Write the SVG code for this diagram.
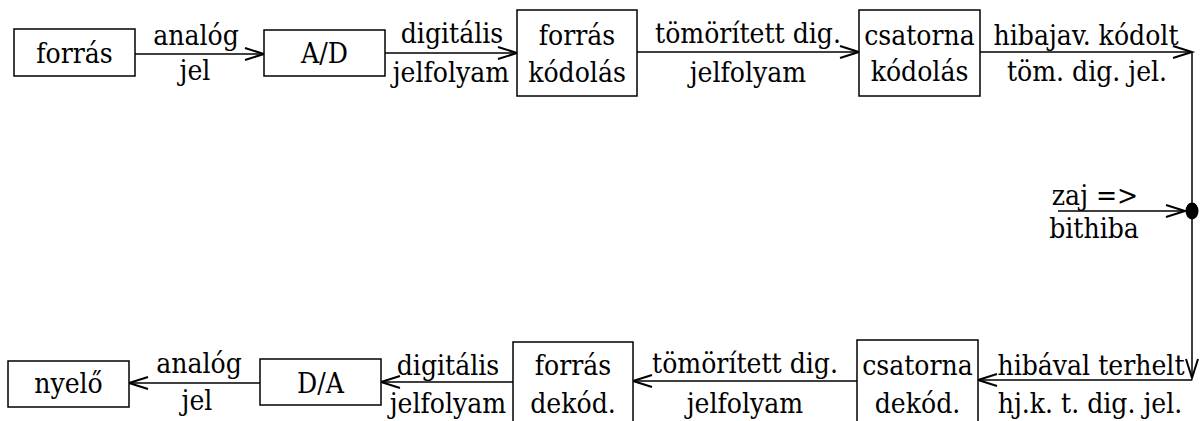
<svg xmlns="http://www.w3.org/2000/svg" width="1200" height="421" viewBox="0 0 1200 421">
  <style>
    .box { fill: #ffffff; stroke: #000000; stroke-width: 1.5; }
    .wire { fill: none; stroke: #000000; stroke-width: 1.5; marker-end: url(#open); }
    text { font-family: 'DejaVu Serif Condensed', 'DejaVu Serif', serif; font-stretch: condensed; font-size: 28px; fill: #000000; text-anchor: middle; }
  </style>
  <defs>
    <marker id="open" viewBox="-22 -8 24 16" markerWidth="24" markerHeight="16" refX="0" refY="0" markerUnits="userSpaceOnUse" orient="auto" overflow="visible">
      <path d="M-19,-6 L0,0 L-19,6" fill="none" stroke="#000000" stroke-width="2"/>
    </marker>
  </defs>
  <rect width="1200" height="421" fill="#ffffff"/>

  <!-- connectors -->
  <g id="connectors">
    <path class="wire" d="M135,54 H264"/>
    <path class="wire" d="M385,53 H517"/>
    <path class="wire" d="M637,52 H859"/>
    <path class="wire" d="M980,52 H1192"/>
    <path class="wire" d="M1192,52 V378"/>
    <path class="wire" d="M1192,380 H978"/>
    <path class="wire" d="M1058,211 H1185"/>
    <ellipse cx="1192" cy="211" rx="6.5" ry="8.5" fill="#000000"/>
    <path class="wire" d="M857,381 H633"/>
    <path class="wire" d="M513,382 H381"/>
    <path class="wire" d="M260,383 H129"/>
  </g>

  <!-- connector labels -->
  <g id="labels">
    <text x="196" y="45">analóg</text>
    <text x="195" y="80">jel</text>
    <text x="452" y="43">digitális</text>
    <text x="451" y="82">jelfolyam</text>
    <text x="748" y="43">tömörített dig.</text>
    <text x="748" y="82">jelfolyam</text>
    <text x="1086" y="45">hibajav. kódolt</text>
    <text x="1087" y="81">töm. dig. jel.</text>
    <text x="1095" y="205">zaj =&gt;</text>
    <text x="1094" y="238">bithiba</text>
    <text x="1091" y="375">hibával terhelt</text>
    <text x="1090" y="413">hj.k. t. dig. jel.</text>
    <text x="745" y="373">tömörített dig.</text>
    <text x="745" y="413">jelfolyam</text>
    <text x="448" y="375">digitális</text>
    <text x="448" y="413">jelfolyam</text>
    <text x="199" y="373">analóg</text>
    <text x="197" y="410">jel</text>
  </g>

  <!-- top row -->
  <g id="forras">
    <rect class="box" x="14" y="29" width="121" height="47"/>
    <text x="74.5" y="63">forrás</text>
  </g>
  <g id="ad">
    <rect class="box" x="264" y="30" width="121" height="46"/>
    <text x="324.5" y="63">A/D</text>
  </g>
  <g id="forras-kodolas">
    <rect class="box" x="517" y="10" width="120" height="86"/>
    <text x="577" y="45">forrás</text>
    <text x="577" y="82">kódolás</text>
  </g>
  <g id="csatorna-kodolas">
    <rect class="box" x="859" y="10" width="121" height="86"/>
    <text x="919.5" y="45">csatorna</text>
    <text x="919.5" y="81">kódolás</text>
  </g>

  <!-- bottom row -->
  <g id="csatorna-dekod">
    <rect class="box" x="857" y="340" width="121" height="95"/>
    <text x="917.5" y="375">csatorna</text>
    <text x="917.5" y="413">dekód.</text>
  </g>
  <g id="forras-dekod">
    <rect class="box" x="513" y="342" width="120" height="95"/>
    <text x="573" y="375">forrás</text>
    <text x="573" y="413">dekód.</text>
  </g>
  <g id="da">
    <rect class="box" x="260" y="359" width="121" height="46"/>
    <text x="320.5" y="393">D/A</text>
  </g>
  <g id="nyelo">
    <rect class="box" x="8" y="361" width="121" height="46"/>
    <text x="68.5" y="393">nyelő</text>
  </g>
</svg>
